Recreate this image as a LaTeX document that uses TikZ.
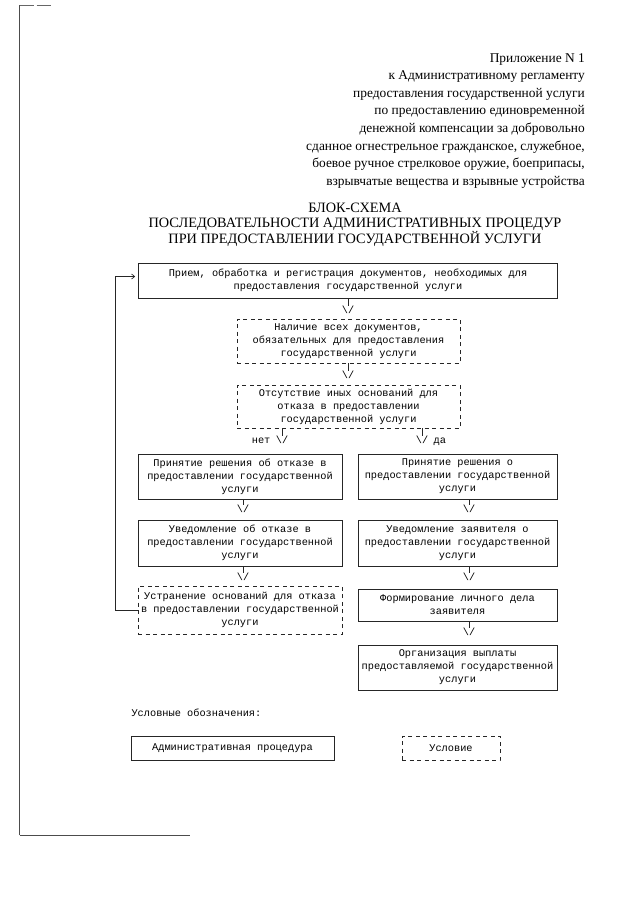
\documentclass[tikz,border=0pt]{standalone}
\usepackage{fontspec}
\setmainfont{Liberation Serif}
\newfontfamily\monofont{Liberation Mono}
\usepackage{tikz}
\usetikzlibrary{arrows.meta}

\begin{document}
\begin{tikzpicture}[x=1pt, y=-1pt,
  proc/.style={draw=black!85, line width=0.7pt, inner sep=1pt, align=center,
    font=\monofont\fontsize{10.3}{13}\selectfont},
  cond/.style={proc, dash pattern=on 4pt off 3.5pt},
  vee/.style={inner sep=0pt, text height=7pt, text depth=0pt,
    font=\monofont\fontsize{10.3}{13}\selectfont},
  tick/.style={draw=black!85, line width=0.7pt}]
\useasboundingbox (0,0) rectangle (640,905);

% page edge of the scan
\draw[black!70, line width=1pt] (19.5,835) -- (19.5,5);
\draw[black!60, line width=0.7pt, dash pattern=on 14pt off 3pt] (19.5,5) -- (52,5);
\draw[black!70, line width=1pt] (19.5,835) -- (190,835);

% heading
\node[anchor=north east, inner sep=0pt, align=right, font=\fontsize{13.4}{17.6}\selectfont] (head) at (585,53)
  {Приложение N 1\\к Административному регламенту\\предоставления государственной услуги\\по предоставлению единовременной\\денежной компенсации за добровольно\\сданное огнестрельное гражданское, служебное,\\боевое ручное стрелковое оружие, боеприпасы,\\взрывчатые вещества и взрывные устройства};
\node[anchor=north, align=center, font=\fontsize{14.3}{15}\selectfont] (title) at (355,199)
  {БЛОК-СХЕМА\\ПОСЛЕДОВАТЕЛЬНОСТИ АДМИНИСТРАТИВНЫХ ПРОЦЕДУР\\ПРИ ПРЕДОСТАВЛЕНИИ ГОСУДАРСТВЕННОЙ УСЛУГИ};

% boxes
\node[proc, minimum width=419, minimum height=35] (recv) at (348,280.5)
  {Прием, обработка и регистрация документов, необходимых для\\предоставления государственной услуги};
\node[cond, minimum width=223, minimum height=44] (docs) at (348.5,341)
  {Наличие всех документов,\\обязательных для предоставления\\государственной услуги};
\node[cond, minimum width=223, minimum height=43] (grounds) at (348.5,406.5)
  {Отсутствие иных оснований для\\отказа в предоставлении\\государственной услуги};
\node[proc, minimum width=204, minimum height=45] (refuse) at (240,476.5)
  {Принятие решения об отказе в\\предоставлении государственной\\услуги};
\node[proc, minimum width=199, minimum height=45] (grant) at (457.5,476.5)
  {Принятие решения о\\предоставлении государственной\\услуги};
\node[proc, minimum width=204, minimum height=46] (notno) at (240,543)
  {Уведомление об отказе в\\предоставлении государственной\\услуги};
\node[proc, minimum width=199, minimum height=46] (notyes) at (457.5,543)
  {Уведомление заявителя о\\предоставлении государственной\\услуги};
\node[cond, minimum width=204, minimum height=48] (fix) at (240,610)
  {Устранение оснований для отказа\\в предоставлении государственной\\услуги};
\node[proc, minimum width=199, minimum height=32] (file) at (457.5,605)
  {Формирование личного дела\\заявителя};
\node[proc, minimum width=199, minimum height=45] (pay) at (457.5,667.5)
  {Организация выплаты\\предоставляемой государственной\\услуги};

% arrows
\node[vee] (a1) at (348,310) {\textbackslash/};
\node[vee] (a2) at (348,375) {\textbackslash/};
\node[vee] (a3) at (282,440) {\textbackslash/};
\node[vee] (a4) at (422,440) {\textbackslash/};
\node[vee] (a5) at (243,509) {\textbackslash/};
\node[vee] (a6) at (469,509) {\textbackslash/};
\node[vee] (a7) at (243,577) {\textbackslash/};
\node[vee] (a8) at (469,577) {\textbackslash/};
\node[vee] (a9) at (469,632) {\textbackslash/};
\node[vee, anchor=east] (no) at ([xshift=-5pt]a3.west) {нет};
\node[vee, anchor=west] (yes) at ([xshift=5pt]a4.east) {да};

\draw[tick] (a1 |- recv.south) -- (a1.north);
\draw[tick] (a2 |- docs.south) -- (a2.north);
\draw[tick] (a3 |- grounds.south) -- (a3.north);
\draw[tick] (a4 |- grounds.south) -- (a4.north);
\draw[tick] (a5 |- refuse.south) -- (a5.north);
\draw[tick] (a6 |- grant.south) -- (a6.north);
\draw[tick] (a7 |- notno.south) -- (a7.north);
\draw[tick] (a8 |- notyes.south) -- (a8.north);
\draw[tick] (a9 |- file.south) -- (a9.north);

% back to the start
\draw[tick, -{Straight Barb[length=3pt, width=5pt]}, shorten >=3pt]
  (fix.west) -- (115,610) |- ([yshift=4pt]recv.west);

% legend
\node[anchor=west, font=\monofont\fontsize{10.3}{13}\selectfont] (keys) at (128,713) {Условные обозначения:};
\node[proc, minimum width=203, minimum height=24] (keyproc) at (232.5,748) {Административная процедура};
\node[cond, minimum width=98, minimum height=24] (keycond) at (451,748) {Условие};

\end{tikzpicture}
\end{document}
